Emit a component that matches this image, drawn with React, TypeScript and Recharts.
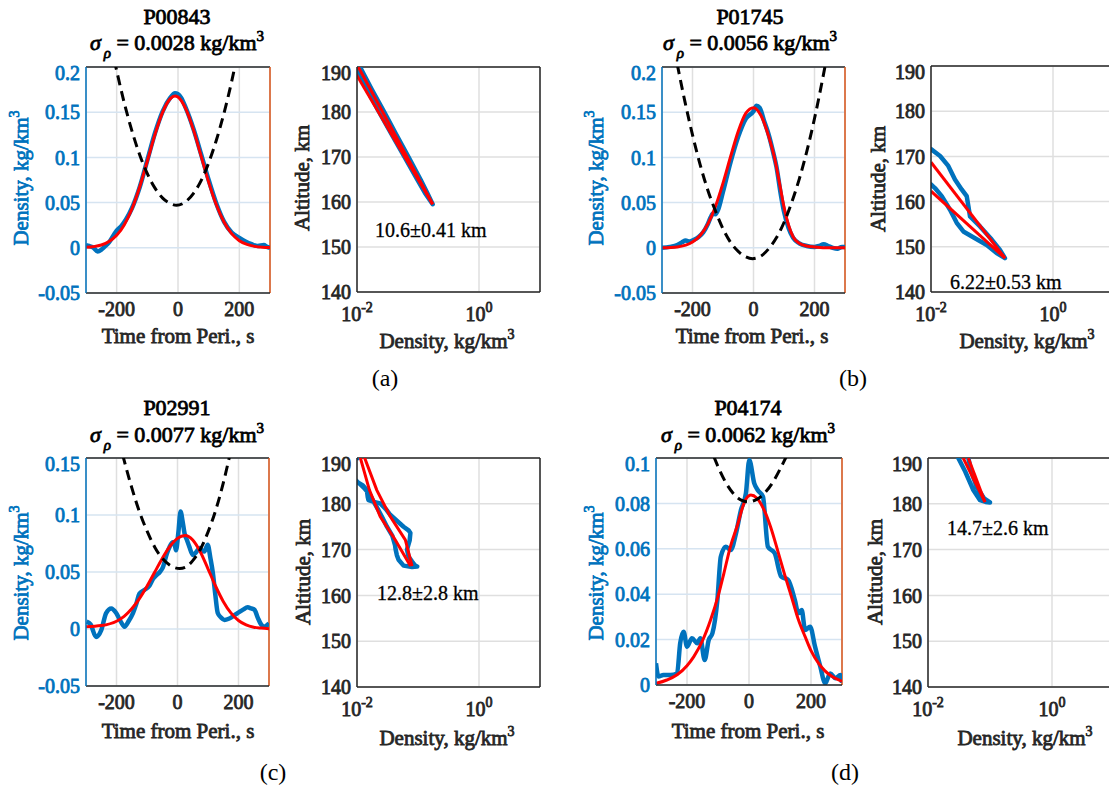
import React from 'react';
import { ComposedChart, Line, XAxis, YAxis, CartesianGrid, ReferenceLine } from 'recharts';

type Pair = [number, number];

// ---- pass P00843 ----
const aMeasured: Pair[] = [[-300, 0.003], [-290, 0.002], [-275, 0.0], [-262, -0.004], [-250, -0.002], [-240, 0.001], [-225, 0.006], [-210, 0.014], [-200, 0.019], [-185, 0.024], [-170, 0.031], [-150, 0.044], [-125, 0.067], [-100, 0.097], [-75, 0.127], [-50, 0.151], [-25, 0.166], [-10, 0.171], [0, 0.17], [10, 0.166], [25, 0.155], [50, 0.132], [75, 0.104], [100, 0.075], [125, 0.049], [150, 0.029], [175, 0.017], [200, 0.011], [220, 0.007], [240, 0.004], [260, 0.002], [280, 0.003], [290, 0.001], [300, 0.0]];
const aFit: Pair[] = [[-300, 0.0005], [-275, 0.0013], [-250, 0.0031], [-225, 0.0069], [-200, 0.0138], [-175, 0.0256], [-150, 0.0432], [-125, 0.0673], [-100, 0.096], [-75, 0.1255], [-50, 0.15], [-25, 0.165], [-10, 0.168], [0, 0.1668], [25, 0.154], [50, 0.131], [75, 0.102], [100, 0.0727], [125, 0.0476], [150, 0.0286], [175, 0.0157], [200, 0.0079], [225, 0.0037], [250, 0.0016], [275, 0.0006], [300, 0.0002]];
const aAlt: Pair[] = [[-208, 0.208], [-175, 0.16], [-150, 0.129], [-125, 0.103], [-100, 0.082], [-75, 0.066], [-50, 0.055], [-25, 0.049], [-5, 0.047], [25, 0.051], [50, 0.06], [75, 0.074], [100, 0.094], [125, 0.119], [150, 0.149], [175, 0.184], [190, 0.208]];
const aProfile: Pair[] = [[0.0112, 190], [0.0175, 185], [0.028, 180], [0.044, 175], [0.07, 170], [0.11, 165], [0.142, 162], [0.174, 159.5], [0.13, 162], [0.097, 165], [0.06, 170], [0.037, 175], [0.023, 180], [0.0145, 185], [0.011, 188], [0.0102, 189.5]];
const aFitIn: Pair[] = [[0.0105, 190], [0.174, 159.5]];
const aFitOut: Pair[] = [[0.0098, 188.3], [0.174, 159.5]];

// ---- pass P01745 ----
const bMeasured: Pair[] = [[-300, 0.0], [-275, 0.001], [-250, 0.003], [-235, 0.006], [-222, 0.008], [-210, 0.007], [-195, 0.009], [-180, 0.012], [-165, 0.017], [-150, 0.026], [-140, 0.034], [-133, 0.038], [-125, 0.037], [-115, 0.043], [-100, 0.062], [-75, 0.095], [-50, 0.123], [-25, 0.143], [0, 0.151], [10, 0.157], [20, 0.155], [35, 0.14], [50, 0.125], [65, 0.105], [75, 0.09], [90, 0.058], [100, 0.04], [115, 0.022], [130, 0.011], [150, 0.005], [175, 0.002], [200, 0.001], [215, 0.002], [230, 0.004], [245, 0.002], [260, 0.0], [275, -0.001], [290, 0.001], [300, 0.001]];
const bFit: Pair[] = [[-300, 0.0], [-250, 0.001], [-200, 0.0064], [-175, 0.0136], [-150, 0.0262], [-125, 0.0455], [-100, 0.0715], [-75, 0.101], [-50, 0.129], [-25, 0.149], [0, 0.155], [25, 0.146], [50, 0.123], [70, 0.098], [85, 0.072], [100, 0.045], [115, 0.025], [130, 0.012], [150, 0.005], [175, 0.002], [200, 0.001], [250, 0.0], [300, 0.0]];
const bAlt: Pair[] = [[-250, 0.203], [-225, 0.162], [-200, 0.125], [-175, 0.092], [-150, 0.064], [-125, 0.041], [-100, 0.021], [-75, 0.006], [-50, -0.004], [-25, -0.01], [-3, -0.012], [25, -0.009], [50, -0.001], [75, 0.011], [100, 0.028], [125, 0.05], [150, 0.076], [175, 0.107], [200, 0.143], [225, 0.184], [237, 0.205]];
const bProfile: Pair[] = [[0.01, 171.6], [0.0141, 170.1], [0.0192, 167.9], [0.0247, 164.9], [0.0318, 162.7], [0.0385, 161.2], [0.041, 159], [0.0436, 156.7], [0.0636, 154.5], [0.099, 151.6], [0.135, 149.3], [0.163, 147.5], [0.119, 148.6], [0.082, 150.4], [0.0526, 151.9], [0.0339, 153.4], [0.0264, 155.3], [0.0205, 158.2], [0.015, 161.2], [0.0116, 163], [0.01, 163.8]];
const bFitIn: Pair[] = [[0.01, 168.7], [0.163, 147.5]];
const bFitOut: Pair[] = [[0.01, 162.3], [0.163, 147.5]];

// ---- pass P02991 ----
const cMeasured: Pair[] = [[-298, 0.0065], [-285, 0.004], [-267, -0.007], [-250, -0.001], [-234, 0.014], [-217, 0.018], [-201, 0.014], [-185, 0.006], [-174, 0.002], [-160, 0.007], [-146, 0.014], [-135, 0.022], [-125, 0.031], [-110, 0.034], [-92, 0.038], [-80, 0.044], [-70, 0.047], [-58, 0.05], [-48, 0.054], [-35, 0.066], [-26, 0.072], [-15, 0.076], [-10, 0.075], [-5, 0.069], [3, 0.085], [10, 0.103], [17, 0.094], [23, 0.084], [31, 0.078], [39, 0.072], [50, 0.065], [60, 0.067], [72, 0.071], [80, 0.069], [88, 0.068], [99, 0.074], [108, 0.062], [116, 0.049], [124, 0.03], [132, 0.014], [143, 0.01], [154, 0.008], [168, 0.009], [181, 0.011], [192, 0.013], [203, 0.015], [215, 0.017], [230, 0.019], [242, 0.018], [252, 0.017], [263, 0.01], [274, 0.004], [284, 0.002], [292, 0.003], [300, 0.005]];
const cFit: Pair[] = [[-300, 0.002], [-250, 0.003], [-200, 0.0068], [-175, 0.0111], [-150, 0.0177], [-125, 0.0266], [-100, 0.0375], [-75, 0.0497], [-50, 0.0619], [-25, 0.0724], [0, 0.0795], [25, 0.082], [50, 0.078], [75, 0.0675], [100, 0.0528], [125, 0.0375], [150, 0.0242], [175, 0.0141], [200, 0.0075], [225, 0.0036], [250, 0.0016], [275, 0.0008], [300, 0.0003]];
const cAlt: Pair[] = [[-180, 0.153], [-150, 0.124], [-125, 0.103], [-100, 0.086], [-75, 0.072], [-50, 0.062], [-25, 0.056], [7, 0.053], [25, 0.054], [50, 0.06], [75, 0.07], [100, 0.085], [125, 0.104], [150, 0.128], [172, 0.153]];
const cProfileTop: Pair[] = [[0.0094, 190.8], [0.0104, 190]];
const cProfile: Pair[] = [[0.0098, 185], [0.0105, 184.6], [0.0125, 184], [0.0145, 183], [0.015, 181.5], [0.0154, 180.8], [0.019, 180.4], [0.024, 180.1], [0.03, 178.8], [0.035, 177.6], [0.045, 176.3], [0.058, 175], [0.07, 174.2], [0.075, 173.6], [0.073, 172], [0.066, 170], [0.07, 168.5], [0.08, 167.4], [0.09, 166.5], [0.097, 166.3], [0.08, 166.2], [0.058, 166.5], [0.048, 167.8], [0.045, 168.8], [0.043, 170], [0.042, 171], [0.038, 173], [0.031, 175], [0.026, 177], [0.0225, 178.6], [0.019, 180.3], [0.0164, 181.9], [0.013, 183.5], [0.011, 184.4]];
const cFitIn: Pair[] = [[0.0112, 190.3], [0.016, 183], [0.024, 177.2], [0.0425, 172.1], [0.0752, 166.4]];
const cFitOut: Pair[] = [[0.0131, 190.3], [0.0211, 183], [0.0351, 177.2], [0.062, 172.1], [0.08, 166.4]];

// ---- pass P04174 ----
const dMeasured: Pair[] = [[-300, 0.0096], [-292, 0.0037], [-276, 0.0044], [-254, 0.0044], [-232, 0.0051], [-222, 0.0184], [-211, 0.0235], [-200, 0.0169], [-184, 0.0206], [-167, 0.0184], [-157, 0.0206], [-143, 0.011], [-130, 0.0198], [-118, 0.0228], [-102, 0.0374], [-91, 0.0565], [-75, 0.0609], [-59, 0.0595], [-42, 0.0668], [-26, 0.0771], [-10, 0.0844], [1, 0.0991], [17, 0.0888], [28, 0.0859], [45, 0.083], [61, 0.0609], [83, 0.058], [104, 0.0477], [126, 0.0463], [148, 0.0374], [159, 0.0316], [170, 0.033], [181, 0.0242], [197, 0.0257], [213, 0.0169], [230, 0.0081], [246, 0.0007], [262, 0.0051], [279, 0.003], [295, 0.0044], [300, 0.001]];
const dFit: Pair[] = [[-300, 0.0007], [-265, 0.0022], [-232, 0.0045], [-200, 0.0085], [-178, 0.0125], [-150, 0.0195], [-124, 0.0286], [-100, 0.039], [-81, 0.0492], [-60, 0.061], [-37, 0.0705], [-15, 0.0805], [6, 0.0837], [25, 0.0824], [50, 0.0767], [70, 0.0695], [93, 0.059], [115, 0.0486], [137, 0.0389], [160, 0.0285], [181, 0.0213], [200, 0.0151], [224, 0.0096], [245, 0.0062], [268, 0.0037], [300, 0.0016]];
const dAlt: Pair[] = [[-113, 0.1005], [-100, 0.0962], [-75, 0.0892], [-50, 0.0843], [-25, 0.0814], [-4, 0.0807], [25, 0.0818], [50, 0.0845], [75, 0.0889], [100, 0.095], [120, 0.1005]];
const dProfile: Pair[] = [[0.0308, 190], [0.04, 187], [0.0538, 183], [0.069, 180.8], [0.085, 180.4], [0.1, 180.3], [0.08, 181.2], [0.061, 183.7], [0.05, 187], [0.0447, 190]];
const dFitIn: Pair[] = [[0.037, 190], [0.083, 180.4]];
const dFitOut: Pair[] = [[0.0447, 190], [0.083, 180.4]];

const timeTicks = [-200, 0, 200];
const altTicks = [140, 150, 160, 170, 180, 190];
const logTicks = [0.01, 1];

const FONT = 'Liberation Serif';
const BLUE = '#0072BD';
const RED = '#FF0000';
const ORANGE = '#D95319';
const AXIS = '#262626';
const GRID = '#DFDFDF';
const GRID_BLUE = '#D6E4F1';

// the serif face has no bold cut here, so heavy text gets a thin outline of its own colour
const HEAVY = 0.8;

const ML = 70;
const MT = 6;
const MR = 6;
const MB = 40;

const toPts = (arr: Pair[]) => arr.map(([x, y]) => ({ x, y }));

const tickFont = { fontSize: 20, fontFamily: FONT, strokeWidth: HEAVY };

interface TimePanelProps {
  x0: number;
  y0: number;
  w: number;
  h: number;
  yDomain: [number, number];
  yTicks: number[];
  measured: Pair[];
  fit: Pair[];
  alt: Pair[];
}

const TimePanel: React.FC<TimePanelProps> = ({ x0, y0, w, h, yDomain, yTicks, measured, fit, alt }) => (
  <div style={{ position: 'absolute', left: x0 - ML, top: y0 - MT }}>
    <ComposedChart width={ML + w + MR} height={MT + h + MB} margin={{ top: MT, right: MR, left: 0, bottom: 0 }}>
      <CartesianGrid horizontal={false} stroke={GRID} strokeWidth={1.5} />
      <CartesianGrid vertical={false} stroke={GRID_BLUE} strokeWidth={1.5} />
      <XAxis type="number" dataKey="x" domain={[-300, 300]} ticks={timeTicks} allowDataOverflow height={MB}
        tickLine={false} tickSize={0} tickMargin={9} axisLine={{ stroke: AXIS, strokeWidth: 1.5 }}
        tick={{ ...tickFont, fill: AXIS, stroke: AXIS }} />
      <YAxis type="number" dataKey="y" domain={yDomain} ticks={yTicks} allowDataOverflow width={ML}
        tickLine={false} tickSize={0} tickMargin={6} axisLine={{ stroke: BLUE, strokeWidth: 1.5 }}
        tick={{ ...tickFont, fill: BLUE, stroke: BLUE }} />
      <ReferenceLine y={yDomain[1]} stroke={AXIS} strokeWidth={1.5} />
      <ReferenceLine x={300} stroke={ORANGE} strokeWidth={1.5} />
      <Line data={toPts(measured)} dataKey="y" type="monotone" stroke={BLUE} strokeWidth={4.5}
        dot={false} activeDot={false} isAnimationActive={false} />
      <Line data={toPts(fit)} dataKey="y" type="monotone" stroke={RED} strokeWidth={3}
        dot={false} activeDot={false} isAnimationActive={false} />
      <Line data={toPts(alt)} dataKey="y" type="monotone" stroke="#000" strokeWidth={3} strokeDasharray="10 6"
        dot={false} activeDot={false} isAnimationActive={false} />
    </ComposedChart>
  </div>
);

// log ticks drawn as 10 with a raised exponent
const LogTick = (props: any) => {
  const { x, y, payload } = props;
  const exp = Math.round(Math.log10(payload.value));
  return (
    <text x={x} y={y + 29} textAnchor="middle" fill={AXIS} stroke={AXIS} strokeWidth={HEAVY}
      fontFamily={FONT} fontSize={20}>
      10<tspan dy={-9} fontSize={14}>{String(exp)}</tspan>
    </text>
  );
};

interface ProfilePanelProps {
  x0: number;
  y0: number;
  w: number;
  h: number;
  profile: Pair[];
  extra?: Pair[];
  fitIn: Pair[];
  fitOut: Pair[];
}

const ProfilePanel: React.FC<ProfilePanelProps> = ({ x0, y0, w, h, profile, extra, fitIn, fitOut }) => (
  <div style={{ position: 'absolute', left: x0 - ML, top: y0 - MT }}>
    <ComposedChart width={ML + w + MR} height={MT + h + MB} margin={{ top: MT, right: MR, left: 0, bottom: 0 }}>
      <CartesianGrid stroke={GRID} strokeWidth={1.5} />
      <XAxis type="number" dataKey="x" scale="log" domain={[0.01, 10]} ticks={logTicks} allowDataOverflow height={MB}
        tickLine={false} tickSize={0} tickMargin={0} axisLine={{ stroke: AXIS, strokeWidth: 1.5 }}
        tick={<LogTick />} />
      <YAxis type="number" dataKey="y" domain={[140, 190]} ticks={altTicks} allowDataOverflow width={ML}
        tickLine={false} tickSize={0} tickMargin={6} axisLine={{ stroke: AXIS, strokeWidth: 1.5 }}
        tick={{ ...tickFont, fill: AXIS, stroke: AXIS }} />
      <ReferenceLine y={190} stroke={AXIS} strokeWidth={1.5} />
      <ReferenceLine x={10} stroke={AXIS} strokeWidth={1.5} />
      {extra && (
        <Line data={toPts(extra)} dataKey="y" type="linear" stroke={BLUE} strokeWidth={4.5} strokeLinecap="round"
          dot={false} activeDot={false} isAnimationActive={false} />
      )}
      <Line data={toPts(profile)} dataKey="y" type="linear" stroke={BLUE} strokeWidth={4.5} strokeLinecap="round"
        strokeLinejoin="round" dot={false} activeDot={false} isAnimationActive={false} />
      <Line data={toPts(fitIn)} dataKey="y" type="linear" stroke={RED} strokeWidth={3}
        dot={false} activeDot={false} isAnimationActive={false} />
      <Line data={toPts(fitOut)} dataKey="y" type="linear" stroke={RED} strokeWidth={3}
        dot={false} activeDot={false} isAnimationActive={false} />
    </ComposedChart>
  </div>
);

const labelStyle = { fontFamily: FONT, fontSize: 21, fill: AXIS, stroke: AXIS, strokeWidth: HEAVY };

const Title = ({ cx, y1, y2, name, sigma }: { cx: number; y1: number; y2: number; name: string; sigma: string }) => (
  <g fontFamily={FONT} fill="#000" stroke="#000" strokeWidth={HEAVY}>
    <text x={cx} y={y1} textAnchor="middle" fontSize={22}>{name}</text>
    <text x={cx} y={y2} textAnchor="middle" fontSize={22}>
      <tspan fontStyle="italic">σ</tspan>
      <tspan dy={8} dx={3} fontSize={15} fontStyle="italic">ρ</tspan>
      <tspan dy={-8}>{` = ${sigma} kg/km`}</tspan>
      <tspan dy={-9} fontSize={15}>3</tspan>
    </text>
  </g>
);

const DensityYLabel = ({ x, y }: { x: number; y: number }) => (
  <text transform={`translate(${x},${y}) rotate(-90)`} textAnchor="middle" {...labelStyle} fill={BLUE} stroke={BLUE}>
    Density, kg/km<tspan dy={-9} fontSize={14}>3</tspan>
  </text>
);

const AltLabel = ({ x, y }: { x: number; y: number }) => (
  <text transform={`translate(${x},${y}) rotate(-90)`} textAnchor="middle" {...labelStyle}>Altitude, km</text>
);

const TimeLabel = ({ x, y }: { x: number; y: number }) => (
  <text x={x} y={y} textAnchor="middle" {...labelStyle}>Time from Peri., s</text>
);

const DensityXLabel = ({ x, y }: { x: number; y: number }) => (
  <text x={x} y={y} textAnchor="middle" {...labelStyle}>
    Density, kg/km<tspan dy={-9} fontSize={14}>3</tspan>
  </text>
);

const Note = ({ x, y, text }: { x: number; y: number; text: string }) => (
  <text x={x} y={y} fontFamily={FONT} fontSize={20} fill="#000" stroke="#000" strokeWidth={0.3}>{text}</text>
);

const PanelTag = ({ x, y, text }: { x: number; y: number; text: string }) => (
  <text x={x} y={y} textAnchor="middle" fontFamily={FONT} fontSize={24} fill="#000">{text}</text>
);

export default function App() {
  return (
    <div style={{ position: 'absolute', left: 0, top: 0, width: 1109, height: 791, overflow: 'hidden', background: '#fff' }}>
      <TimePanel x0={86} y0={67} w={184} h={226} yDomain={[-0.05, 0.2]} yTicks={[-0.05, 0, 0.05, 0.1, 0.15, 0.2]}
        measured={aMeasured} fit={aFit} alt={aAlt} />
      <ProfilePanel x0={357} y0={67} w={183} h={225} profile={aProfile} fitIn={aFitIn} fitOut={aFitOut} />

      <TimePanel x0={662} y0={67} w={183} h={226} yDomain={[-0.05, 0.2]} yTicks={[-0.05, 0, 0.05, 0.1, 0.15, 0.2]}
        measured={bMeasured} fit={bFit} alt={bAlt} />
      <ProfilePanel x0={931} y0={66} w={183} h={226} profile={bProfile} fitIn={bFitIn} fitOut={bFitOut} />

      <TimePanel x0={86} y0={458} w={183} h={228} yDomain={[-0.05, 0.15]} yTicks={[-0.05, 0, 0.05, 0.1, 0.15]}
        measured={cMeasured} fit={cFit} alt={cAlt} />
      <ProfilePanel x0={357} y0={458} w={183} h={229} profile={cProfile} extra={cProfileTop} fitIn={cFitIn} fitOut={cFitOut} />

      <TimePanel x0={656} y0={458} w={186} h={227} yDomain={[0, 0.1]} yTicks={[0, 0.02, 0.04, 0.06, 0.08, 0.1]}
        measured={dMeasured} fit={dFit} alt={dAlt} />
      <ProfilePanel x0={928} y0={458} w={186} h={229} profile={dProfile} fitIn={dFitIn} fitOut={dFitOut} />

      <svg width={1109} height={791} style={{ position: 'absolute', left: 0, top: 0, pointerEvents: 'none' }}>
        <Title cx={177} y1={24} y2={50} name="P00843" sigma="0.0028" />
        <Title cx={750} y1={24} y2={50} name="P01745" sigma="0.0056" />
        <Title cx={177} y1={415} y2={442} name="P02991" sigma="0.0077" />
        <Title cx={748} y1={415} y2={442} name="P04174" sigma="0.0062" />

        <DensityYLabel x={28} y={178} />
        <DensityYLabel x={603} y={178} />
        <DensityYLabel x={28} y={573} />
        <DensityYLabel x={603} y={573} />

        <AltLabel x={309} y={178} />
        <AltLabel x={885} y={179} />
        <AltLabel x={310} y={572} />
        <AltLabel x={882} y={572} />

        <TimeLabel x={178} y={343} />
        <TimeLabel x={752} y={343} />
        <TimeLabel x={178} y={738} />
        <TimeLabel x={748} y={738} />

        <DensityXLabel x={447} y={348} />
        <DensityXLabel x={1027} y={348} />
        <DensityXLabel x={447} y={745} />
        <DensityXLabel x={1025} y={745} />

        <Note x={375} y={237} text="10.6±0.41 km" />
        <Note x={950} y={289} text="6.22±0.53 km" />
        <Note x={377} y={600} text="12.8±2.8 km" />
        <Note x={947} y={535} text="14.7±2.6 km" />

        <PanelTag x={385} y={386} text="(a)" />
        <PanelTag x={853} y={386} text="(b)" />
        <PanelTag x={273} y={780} text="(c)" />
        <PanelTag x={845} y={780} text="(d)" />
      </svg>
    </div>
  );
}
